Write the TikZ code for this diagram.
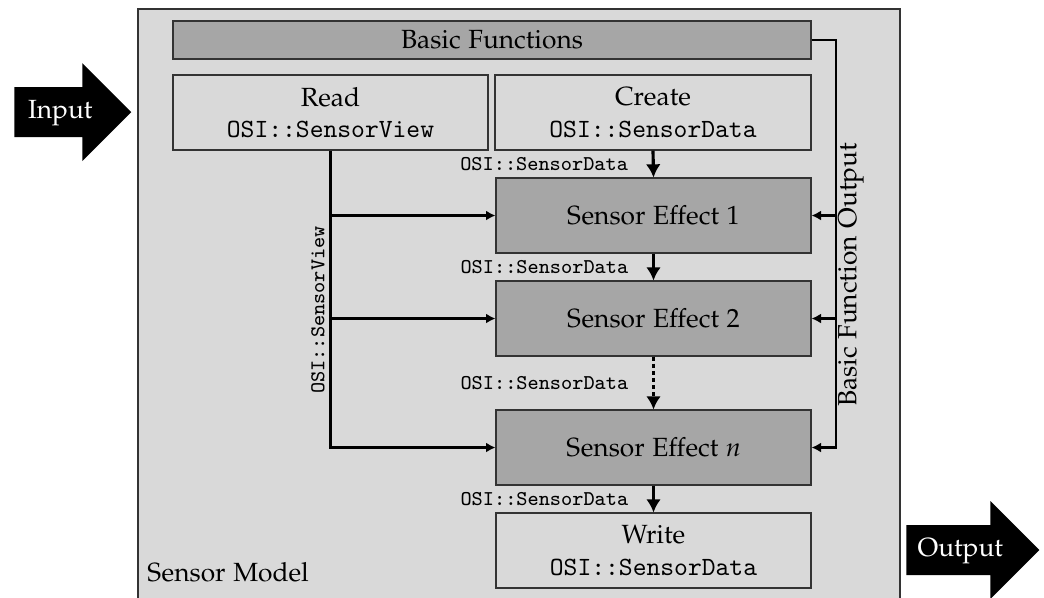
\documentclass[tikz,border=0pt]{standalone}
\usepackage[T1,TU]{fontenc}
\usetikzlibrary{shapes.arrows,arrows.meta}
\newcommand{\pxs}{0.38pt}
\newcommand{\pal}{\fontencoding{T1}\fontfamily{pplx}\selectfont}
\newcommand{\osi}[1]{{\fontencoding{TU}\fontfamily{lmtt}\selectfont #1}}
\tikzset{
  lightbox/.style={draw=black!80, fill=black!15, line width=0.4pt, inner sep=0pt, align=center},
  darkbox/.style={lightbox, fill=black!35},
  flow/.style={-{Latex[length=5pt,width=5.6pt]}, line width=1.2pt},
  feed/.style={-{Latex[length=3.6pt,width=3.8pt]}, line width=0.8pt},
  datalbl/.style={font=\footnotesize\fontencoding{TU}\fontfamily{lmtt}\selectfont, inner sep=1pt},
  bigarrow/.style={single arrow, fill=black, text=white, text height=6.8pt, text depth=2pt,
    inner ysep=4.9pt, inner xsep=2pt, single arrow head extend=24*\pxs, anchor=tip}
}
\begin{document}
\begin{tikzpicture}[x=\pxs, y=-\pxs, font=\pal]
\useasboundingbox (0,0) rectangle (1044,597);
% sensor model frame
\draw [draw=black!80, fill=black!15, line width=0.4pt] (138,9) rectangle (900,600);
\node [anchor=south west] (model) at (138,591) {Sensor Model};

% blocks
\node [darkbox, minimum width=638*\pxs, minimum height=38*\pxs] (basic) at (492,40) {Basic Functions};
\node [lightbox, minimum width=315*\pxs, minimum height=75*\pxs] (read) at (330.5,112.5)
  {Read\\ \osi{OSI::SensorView}};
\node [lightbox, minimum width=316*\pxs, minimum height=75*\pxs] (create) at (653,112.5)
  {Create\\ \osi{OSI::SensorData}};
\node [darkbox, minimum width=315*\pxs, minimum height=75*\pxs] (eff1) at (653.5,215.5) {Sensor Effect 1};
\node [darkbox, minimum width=315*\pxs, minimum height=75*\pxs] (eff2) at (653.5,318.5) {Sensor Effect 2};
\node [darkbox, minimum width=315*\pxs, minimum height=75*\pxs] (effn) at (653.5,447.5) {Sensor Effect \textit{n}};
\node [lightbox, minimum width=315*\pxs, minimum height=75*\pxs] (write) at (653.5,550.5)
  {Write\\ \osi{OSI::SensorData}};

% data chain
\draw [flow] (create.south) -- node[datalbl, left=8pt] {OSI::SensorData} (eff1.north);
\draw [flow] (eff1.south) -- node[datalbl, left=8pt] {OSI::SensorData} (eff2.north);
\draw [flow, dash pattern=on 1.6pt off 1.1pt] (eff2.south) -- node[datalbl, left=8pt] {OSI::SensorData} (effn.north);
\draw [flow] (effn.south) -- node[datalbl, left=8pt] {OSI::SensorData} (write.north);

% sensor view
\draw [feed] (read.south) |- (effn.west);
\draw [feed] (read.south |- eff1.west) -- (eff1.west);
\draw [feed] (read.south |- eff2.west) -- (eff2.west);
\node [datalbl, rotate=90] (viewlbl) at (318,310) {OSI::SensorView};

% basic function output
\coordinate (bus) at (836,40);
\draw [feed] (basic.east) -- (bus) |- (effn.east);
\draw [feed] (bus |- eff1.east) -- (eff1.east);
\draw [feed] (bus |- eff2.east) -- (eff2.east);
\node [rotate=90] (buslbl) at (851,275) {Basic Function Output};

% in and out
\node [bigarrow, minimum height=117*\pxs] (input) at (132,112) {Input};
\node [bigarrow, minimum height=133*\pxs] (output) at (1040,550) {Output};
\end{tikzpicture}
\end{document}
